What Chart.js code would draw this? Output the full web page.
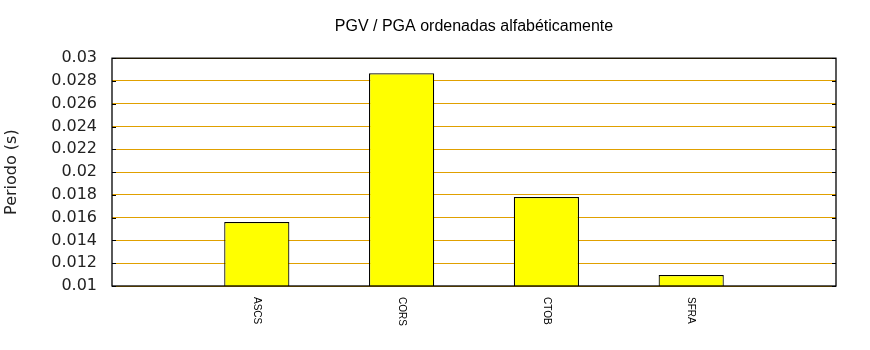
<!DOCTYPE html>
<html>
<head>
<meta charset="utf-8">
<script src="https://cdn.jsdelivr.net/npm/chart.js@4/dist/chart.umd.min.js"></script>
<style>
html,body{margin:0;padding:0;background:#fff;}
canvas{display:block;}
</style>
</head>
<body>
<canvas id="c" width="870" height="350"></canvas>
<script>
const categories = ['ASCS', 'CORS', 'CTOB', 'SFRA'];
const periodValues = [0.01561, 0.02868, 0.01781, 0.01096];
const yMin = 0.01, yMax = 0.03, yStep = 0.002;
const chartTitle = 'PGV / PGA ordenadas alfabéticamente';
const yAxisTitle = 'Periodo (s)';

const labels = [''].concat(categories, ['']);
const values = [null].concat(periodValues, [null]);

const framePlugin = {
  id: 'frame',
  afterDatasetsDraw(chart) {
    const {ctx, chartArea: a, scales} = chart;
    ctx.save();
    ctx.strokeStyle = '#000';
    ctx.lineWidth = 1.3;
    ctx.strokeRect(a.left, a.top, a.right - a.left, a.bottom - a.top);
    ctx.lineWidth = 1.2;
    scales.y.ticks.forEach(t => {
      const py = Math.round(scales.y.getPixelForValue(t.value)) + 0.5;
      ctx.beginPath();
      ctx.moveTo(a.left, py); ctx.lineTo(a.left + 4, py);
      ctx.moveTo(a.right, py); ctx.lineTo(a.right - 4, py);
      ctx.stroke();
    });
    // rotated x labels (reading top to bottom)
    ctx.fillStyle = '#000';
    ctx.font = '10px "Liberation Sans", Arial, sans-serif';
    ctx.textAlign = 'left';
    ctx.textBaseline = 'middle';
    labels.forEach((lab, i) => {
      if (!lab) return;
      const px = scales.x.getPixelForValue(i);
      ctx.save();
      ctx.translate(px, a.bottom + 11);
      ctx.rotate(Math.PI / 2);
      ctx.fillText(lab, 0, 0);
      ctx.restore();
    });
    ctx.restore();
  }
};

new Chart(document.getElementById('c'), {
  type: 'bar',
  data: {
    labels: labels,
    datasets: [{
      data: values,
      backgroundColor: '#ffff00',
      borderColor: '#000',
      borderWidth: 1.2,
      barPercentage: 0.45,
      categoryPercentage: 1.0
    }]
  },
  options: {
    responsive: false,
    animation: false,
    devicePixelRatio: 1,
    layout: {padding: {left: 0, right: 34, top: 0, bottom: 0}},
    plugins: {
      legend: {display: false},
      tooltip: {enabled: false},
      title: {
        display: true,
        text: chartTitle,
        fullSize: false,
        color: '#000',
        font: {family: '"Liberation Sans", Arial, sans-serif', size: 16, weight: 'normal', lineHeight: 1.2},
        padding: {top: 17, bottom: 22}
      }
    },
    scales: {
      x: {
        type: 'category',
        offset: false,
        grid: {display: false, drawTicks: false},
        border: {display: false},
        ticks: {display: false},
        afterFit(s) { s.height = 64; }
      },
      y: {
        min: yMin,
        max: yMax,
        grid: {color: '#e0a000', lineWidth: 1, drawTicks: false},
        border: {display: false},
        ticks: {
          stepSize: yStep,
          padding: 15,
          color: '#222',
          font: {family: '"DejaVu Sans", sans-serif', size: 16},
          callback: v => String(Number(v.toFixed(4)))
        },
        title: {
          display: true,
          text: yAxisTitle,
          color: '#222',
          font: {family: '"DejaVu Sans", sans-serif', size: 16},
          padding: {top: 2, bottom: 0}
        },
        afterFit(s) { s.width = 112; }
      }
    }
  },
  plugins: [framePlugin]
});
</script>
</body>
</html>
